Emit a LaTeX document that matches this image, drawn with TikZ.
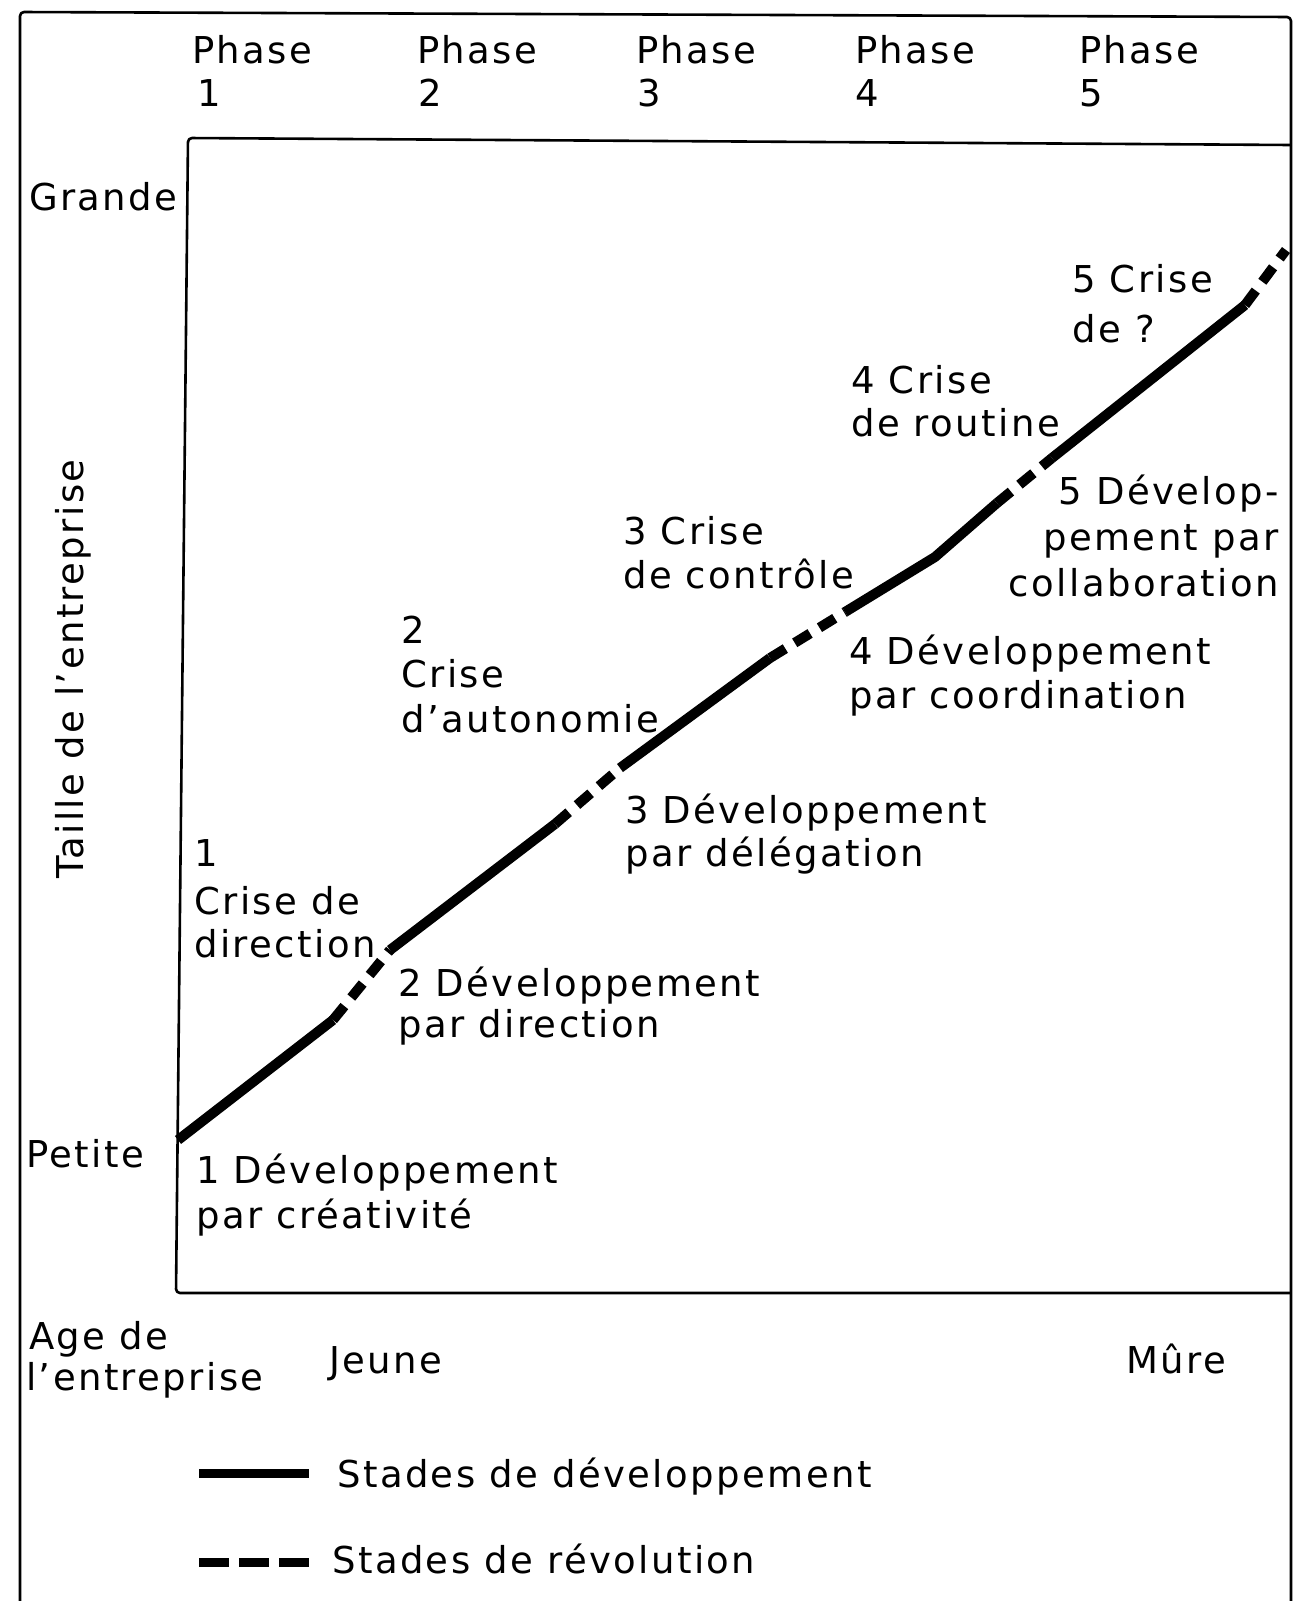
\documentclass[tikz,border=0pt]{standalone}
\usepackage{fontspec}
\setmainfont[LetterSpace=6.5]{DejaVu Sans}
\begin{document}
\begin{tikzpicture}[x=1pt,y=-1pt,
  lbl/.style={font=\fontsize{37}{44}\selectfont, inner sep=0pt, anchor=base west},
  lblr/.style={font=\fontsize{37}{44}\selectfont, inner sep=0pt, anchor=base east},
  frame/.style={line width=2.6pt, line join=round},
  devseg/.style={line width=10pt, line cap=butt, line join=round},
  revseg/.style={line width=10pt, line cap=butt, dash pattern=on 18pt off 11pt}]
\useasboundingbox (0,0) rectangle (1302,1601);
% outer frame (bottom edge outside the picture)
\draw[frame, rounded corners=4pt] (20,1601) -- (20,12) -- (1291,17) -- (1291,1601);
% inner plot box
\draw[frame, rounded corners=4pt] (1291,145) -- (188,138) -- (176,1293) -- (1291,1293);
% phases
\node[lbl] (ph1) at (192,63) {Phase};
\node[lbl] (ph2) at (417,63) {Phase};
\node[lbl] (ph3) at (636,63) {Phase};
\node[lbl] (ph4) at (855,63) {Phase};
\node[lbl] (ph5) at (1079,63) {Phase};
\node[lbl] (n1) at (197,106) {1};
\node[lbl] (n2) at (418,106) {2};
\node[lbl] (n3) at (637,106) {3};
\node[lbl] (n4) at (855,106) {4};
\node[lbl] (n5) at (1079,106) {5};
% axis labels
\node[lbl] (grande) at (29,210) {Grande};
\node[lbl] (petite) at (26,1167) {Petite};
\node[font=\fontsize{37}{44}\selectfont, inner sep=0pt, anchor=base, rotate=90] (taille) at (83,669) {Taille de l'entreprise};
\node[lbl] (age1) at (29,1349) {Age de};
\node[lbl] (age2) at (26,1390) {l'entreprise};
\node[lbl] (jeune) at (329,1373) {Jeune};
\node[lbl] (mure) at (1126,1373) {Mûre};
% chart labels
\node[lbl] (c1a) at (194,866) {1};
\node[lbl] (c1b) at (194,914) {Crise de};
\node[lbl] (c1c) at (194,957) {direction};
\node[lbl] (d1a) at (196,1183) {1 Développement};
\node[lbl] (d1b) at (196,1228) {par créativité};
\node[lbl] (d2a) at (398,996) {2 Développement};
\node[lbl] (d2b) at (398,1037) {par direction};
\node[lbl] (c2a) at (401,643) {2};
\node[lbl] (c2b) at (401,687) {Crise};
\node[lbl] (c2c) at (401,732) {d'autonomie};
\node[lbl] (c3a) at (623,544) {3 Crise};
\node[lbl] (c3b) at (623,588) {de contrôle};
\node[lbl] (d3a) at (625,823) {3 Développement};
\node[lbl] (d3b) at (625,866) {par délégation};
\node[lbl] (c4a) at (851,393) {4 Crise};
\node[lbl] (c4b) at (851,436) {de routine};
\node[lbl] (d4a) at (849,664) {4 Développement};
\node[lbl] (d4b) at (849,708) {par coordination};
\node[lbl] (c5a) at (1072,292) {5 Crise};
\node[lbl] (c5b) at (1072,342) {de ?};
\node[lblr] (d5a) at (1279,504) {5 Dévelop-};
\node[lblr] (d5b) at (1279,550) {pement par};
\node[lblr] (d5c) at (1279,596) {collaboration};
% curve points
\coordinate (p0) at (178,1140);
\coordinate (p1) at (333,1020);
\coordinate (p2) at (390,950);
\coordinate (p3) at (555,824);
\coordinate (p4) at (620,768);
\coordinate (p5) at (770,658);
\coordinate (p6) at (845,612);
\coordinate (k6) at (935,557);
\coordinate (p7) at (997,503);
\coordinate (p8) at (1052,458);
\coordinate (p9) at (1245,305);
\coordinate (p10) at (1286,250);
\draw[devseg] (p0) -- (p1);
\draw[revseg] (p1) -- (p2);
\draw[devseg] (p2) -- (p3);
\draw[revseg] (p3) -- (p4);
\draw[devseg] (p4) -- (p5);
\draw[revseg] (p5) -- (p6);
\draw[devseg] (p6) -- (k6) -- (p7);
\draw[revseg] (p7) -- (p8);
\draw[devseg] (p8) -- (p9);
\draw[revseg] (p9) -- (p10);
% legend
\coordinate (ls1) at (199,1473);
\coordinate (ls2) at (309,1473);
\coordinate (lr1) at (199,1562);
\coordinate (lr2) at (309,1562);
\draw[line width=9pt] (ls1) -- (ls2);
\draw[line width=9pt, dash pattern=on 30pt off 10pt] (lr1) -- (lr2);
\node[lbl] (leg1) at (337,1487) {Stades de développement};
\node[lbl] (leg2) at (332,1573) {Stades de révolution};
\end{tikzpicture}
\end{document}
